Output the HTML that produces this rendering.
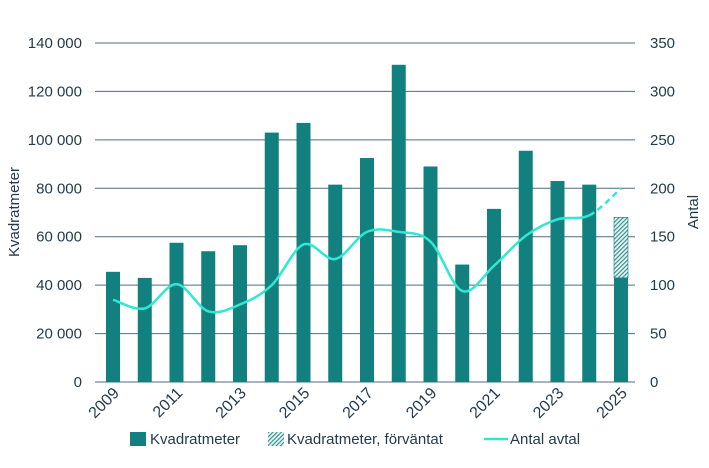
<!DOCTYPE html><html><head><meta charset="utf-8"><style>
body{margin:0;background:#fff}
text{font-family:"Liberation Sans",sans-serif;fill:#1f3a4d;font-size:15px}
</style></head><body>
<svg id="s" width="709" height="463" xmlns="http://www.w3.org/2000/svg">
<defs><pattern id="h" width="3" height="3" patternUnits="userSpaceOnUse" patternTransform="rotate(45)">
<rect width="3" height="3" fill="#e4f2f2"/><rect width="1.1" height="3" fill="#2f8c8b"/></pattern></defs>
<g id="g"></g>
</svg>
<script>
const g=document.getElementById('g');let h='';
const X0=95,X1=635,Y0=382;
for(let i=0;i<=7;i++){const y=Y0-i*339/7;
h+=`<line x1="${X0}" x2="${X1}" y1="${y}" y2="${y}" stroke="#4d6e7e" stroke-width="1"/>`;
h+=`<text x="82" y="${y+5}" text-anchor="end">${i==0?'0':(i*20)+' 000'}</text>`;
h+=`<text x="650" y="${y+5}">${i*50}</text>`;}
const v=[45500,43000,57500,54000,56500,103000,107000,81500,92500,131000,89000,48500,71500,95500,83000,81500,43000];
const ly=y=>Y0-y/140000*339;
v.forEach((a,i)=>{const x=113+i*31.75;h+=`<rect x="${x-7}" y="${ly(a)}" width="14" height="${Y0-ly(a)}" fill="#12807f"/>`;
if(i%2==0)h+=`<text transform="translate(${x+7},394) rotate(-45)" text-anchor="end" style="font-size:16px">${2009+i}</text>`;});
h+=`<rect x="614" y="${ly(68000)}" width="14" height="${ly(43000)-ly(68000)}" fill="url(#h)" stroke="#12807f" stroke-width="0.6"/>`;
const r=[85,76,101,73,80,100,142,127,155,155,145,94,120,151,168,172,200];
const P=r.map((a,i)=>[113+i*31.75,Y0-a/350*339]);
function seg(i){const p0=P[Math.max(i-1,0)],p1=P[i],p2=P[i+1],p3=P[Math.min(i+2,P.length-1)];
return `C${p1[0]+(p2[0]-p0[0])/6},${p1[1]+(p2[1]-p0[1])/6} ${p2[0]-(p3[0]-p1[0])/6},${p2[1]-(p3[1]-p1[1])/6} ${p2[0]},${p2[1]}`;}
let d=`M${P[0][0]},${P[0][1]}`;for(let i=0;i<15;i++)d+=seg(i);
h+=`<path d="${d}" fill="none" stroke="#2ee8d4" stroke-width="2.5"/>`;
h+=`<path d="M${P[15][0]},${P[15][1]}${seg(15)}" fill="none" stroke="#2ee8d4" stroke-width="2.5" stroke-dasharray="6,4"/>`;
h+=`<text transform="translate(19,212) rotate(-90)" text-anchor="middle">Kvadratmeter</text>`;
h+=`<text transform="translate(698,212) rotate(-90)" text-anchor="middle">Antal</text>`;
h+=`<rect x="130" y="432" width="16" height="14" fill="#12807f"/><text x="150" y="444">Kvadratmeter</text>`;
h+=`<rect x="268" y="432" width="16" height="14" fill="url(#h)"/><text x="287" y="444">Kvadratmeter, förväntat</text>`;
h+=`<line x1="484" x2="508" y1="439" y2="439" stroke="#2ee8d4" stroke-width="2.5"/><text x="510" y="444">Antal avtal</text>`;
g.innerHTML=h;
</script></body></html>
